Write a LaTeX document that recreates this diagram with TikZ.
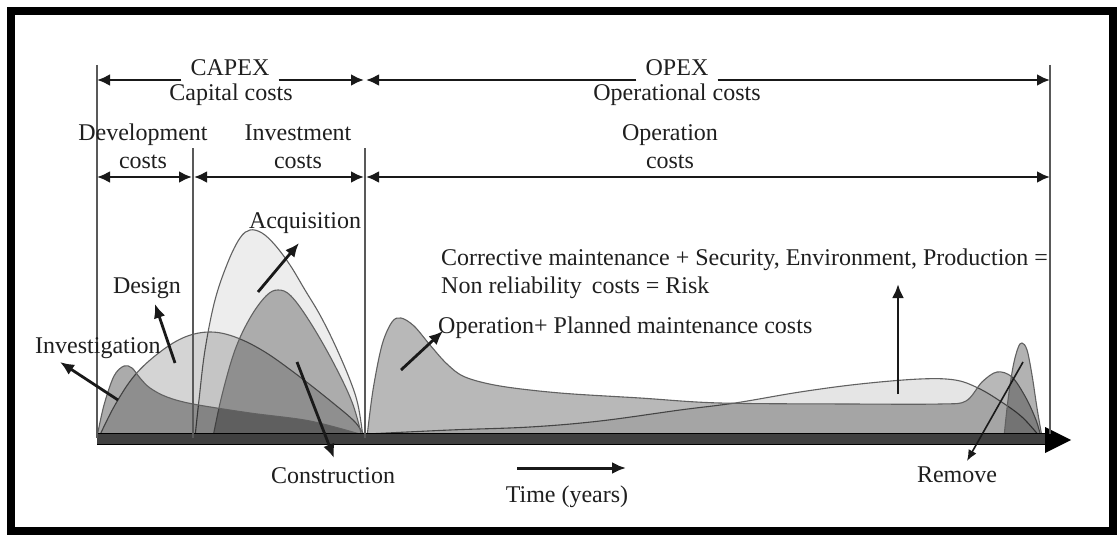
\documentclass[tikz,border=0pt]{standalone}
\usepackage{fontspec}
\setmainfont{Liberation Serif}
\usetikzlibrary{arrows.meta}
\begin{document}
\begin{tikzpicture}[x=1pt,y=-1pt,
  lbl/.style={font=\fontsize{24}{29}\selectfont, inner sep=0pt, anchor=base, text=black!88},
  gaplbl/.style={lbl, inner xsep=9pt},
  dimarrow/.style={line width=2.8pt, draw=black!90, -{Latex[length=13pt,width=12pt]}},
  dimboth/.style={line width=2.8pt, draw=black!90, {Latex[length=13pt,width=12pt]}-{Latex[length=13pt,width=12pt]}},
  pointer/.style={line width=2.8pt, draw=black!90, -{Latex[length=14pt,width=12pt]}},
  thinpointer/.style={line width=1.6pt, draw=black!90, -{Latex[length=11pt,width=9pt]}},
  phaseline/.style={line width=1.2pt, draw=black!65},
  curve/.style={fill=black, draw=black!62, line width=1.1pt},
]
\useasboundingbox (0,0) rectangle (1120,535);
\fill[white] (0,0) rectangle (1120,535);

% cost curves over the life cycle
\path[curve, fill opacity=.07] plot[smooth, tension=.6] coordinates
  {(195,437) (199,400) (205,350) (215,300) (228,262) (240,238) (250,230) (262,233) (275,245) (290,265) (305,290) (320,315) (335,345) (350,380) (358,405) (363,437)} -- cycle;
\path[curve, fill opacity=.17] plot[smooth, tension=.6] coordinates
  {(99,437) (115,405) (135,375) (160,352) (185,337) (210,332) (235,337) (265,352) (300,377) (333,403) (355,422) (365,437)} -- cycle;
\path[curve, fill opacity=.27] plot[smooth, tension=.6] coordinates
  {(213,437) (222,395) (235,350) (250,318) (266,296) (278,290) (291,296) (310,322) (333,362) (352,402) (362,437)} -- cycle;
\path[curve, fill opacity=.33] plot[smooth, tension=.55] coordinates
  {(97,437) (104,405) (114,376) (124,366) (132,368) (140,378) (150,388) (167,397) (193,404) (250,413) (310,421) (363,435)} -- cycle;
\path[curve, fill opacity=.10] plot[smooth, tension=.6] coordinates
  {(367,434) (450,430) (530,427) (600,421) (680,410) (735,403) (800,392) (860,384) (920,379) (955,380) (978,388) (1000,401) (1022,417) (1040,437)} -- cycle;
\path[curve, fill opacity=.28] plot[smooth, tension=.55] coordinates
  {(367,437) (373,390) (382,345) (392,322) (401,318) (414,326) (430,345) (447,364) (465,377) (500,386) (560,393) (640,398) (720,403) (850,404) (940,404) (966,401) (982,382) (997,372) (1012,377) (1026,398) (1036,420) (1041,437)} -- cycle;
\path[curve, fill opacity=.30] plot[smooth, tension=.6] coordinates
  {(1004,437) (1008,400) (1013,367) (1018,348) (1022,343) (1027,350) (1032,375) (1037,408) (1042,437)} -- cycle;

% time axis
\fill[black!75] (97,433) rectangle (1047,444);
\draw[line width=1pt, black] (97,433) -- (1047,433) (97,444) -- (1047,444);
\fill[black] (1045,427) -- (1071,440) -- (1045,453) -- cycle;

% phase boundaries
\coordinate (b0top) at (97,65);
\coordinate (b0bot) at (97,438);
\coordinate (b1top) at (193,148);
\coordinate (b1bot) at (193,438);
\coordinate (b2top) at (365,148);
\coordinate (b2bot) at (365,438);
\coordinate (b3top) at (1050,65);
\coordinate (b3bot) at (1050,434);
\draw[phaseline] (b0top) -- (b0bot);
\draw[phaseline] (b1top) -- (b1bot);
\draw[phaseline] (b2top) -- (b2bot);
\draw[phaseline] (b3top) -- (b3bot);

% upper cost groups
\node[gaplbl] (capex) at (230,76) {CAPEX};
\node[lbl] (capital) at (231,101) {Capital costs};
\node[gaplbl] (opex) at (677,76) {OPEX};
\node[lbl] (operational) at (677,101) {Operational costs};
\coordinate (capL) at (97,80);
\coordinate (capR) at (364,80);
\coordinate (opL) at (366,80);
\coordinate (opR) at (1050,80);
\draw[dimarrow] (capex.west |- capL) -- (capL);
\draw[dimarrow] (capex.east |- capR) -- (capR);
\draw[dimarrow] (opex.west |- opL) -- (opL);
\draw[dimarrow] (opex.east |- opR) -- (opR);

% lower cost groups
\node[lbl] (devtxt) at (143,140) {Development};
\node[lbl] (devcosts) at (143,168) {costs};
\node[lbl] (invtxt) at (298,140) {Investment};
\node[lbl] (invcosts) at (298,168) {costs};
\node[lbl] (optxt) at (670,140) {Operation};
\node[lbl] (opcosts) at (670,168) {costs};
\coordinate (r2a) at (97,177);
\coordinate (r2b) at (192,177);
\coordinate (r2c) at (194,177);
\coordinate (r2d) at (364,177);
\coordinate (r2e) at (366,177);
\coordinate (r2f) at (1050,177);
\draw[dimboth] (r2a) -- (r2b);
\draw[dimboth] (r2c) -- (r2d);
\draw[dimboth] (r2e) -- (r2f);

% activity labels and pointers
\node[lbl, anchor=base west] (investigation) at (35,353) {Investigation};
\node[lbl] (design) at (147,293) {Design};
\node[lbl] (acquisition) at (305,228) {Acquisition};
\node[lbl] (construction) at (333,483) {Construction};
\node[lbl, anchor=base west] (corrective) at (441,265) {Corrective maintenance + Security, Environment, Production =};
\node[lbl, anchor=base west] (nonrel) at (441,293) {Non reliability\, costs = Risk};
\node[lbl, anchor=base west] (operation) at (438,333) {Operation+ Planned maintenance costs};
\node[lbl] (time) at (567,502) {Time (years)};
\node[lbl] (remove) at (957,482) {Remove};

\coordinate (invFrom) at (118,400);
\coordinate (invTo) at (60,362);
\coordinate (desFrom) at (175,363);
\coordinate (desTo) at (155,304);
\coordinate (acqFrom) at (258,292);
\coordinate (acqTo) at (299,243);
\coordinate (conFrom) at (297,362);
\coordinate (conTo) at (334,458);
\coordinate (opFrom) at (401,370);
\coordinate (opTo) at (443,331);
\coordinate (riskFrom) at (898,394);
\coordinate (riskTo) at (898,284);
\coordinate (remFrom) at (1023,362);
\coordinate (remTo) at (967,461);
\coordinate (timeFrom) at (517,468);
\coordinate (timeTo) at (626,468);
\draw[pointer] (invFrom) -- (invTo);
\draw[pointer] (desFrom) -- (desTo);
\draw[pointer] (acqFrom) -- (acqTo);
\draw[pointer] (conFrom) -- (conTo);
\draw[pointer] (opFrom) -- (opTo);
\draw[pointer] (riskFrom) -- (riskTo);
\draw[thinpointer] (remFrom) -- (remTo);
\draw[pointer, line width=3pt] (timeFrom) -- (timeTo);

% frame
\draw[line width=8pt, black] (11,11.5) rectangle (1113,531);
\end{tikzpicture}
\end{document}
